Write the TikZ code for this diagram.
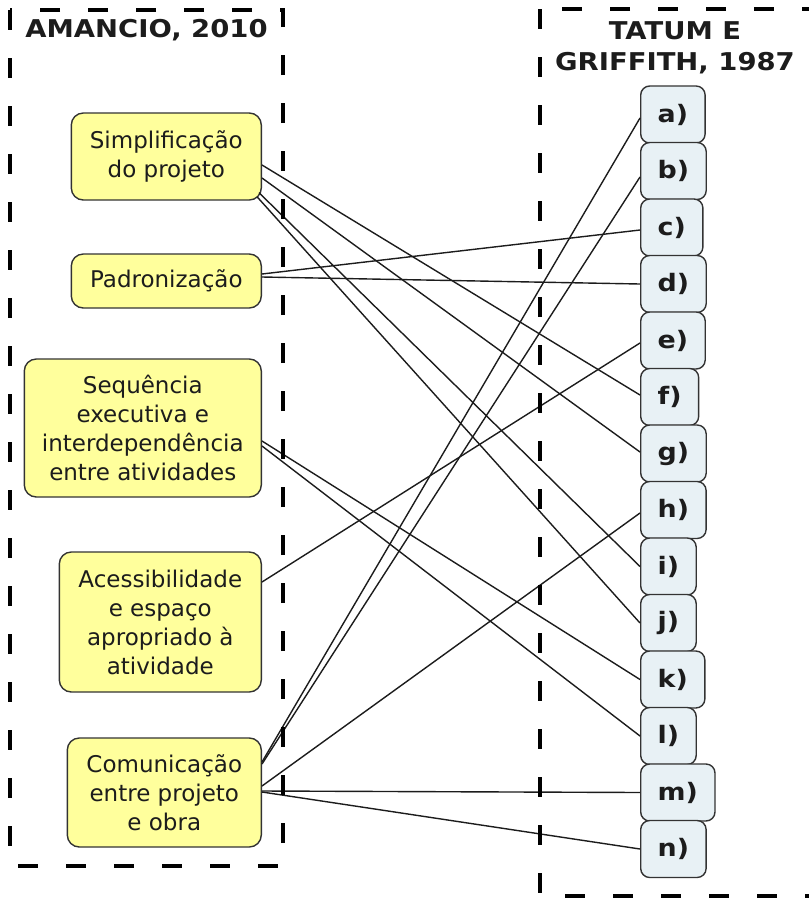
\documentclass[tikz,border=0pt]{standalone}
\usepackage{fontspec}
\newfontfamily\dv{DejaVu Sans}
\newfontfamily\dvb[BoldFeatures={FakeStretch=1.12}]{DejaVu Sans}
\definecolor{lfill}{HTML}{FFFF9C}
\definecolor{rfill}{HTML}{E8F1F5}
\definecolor{ink}{HTML}{1C1C1C}
\definecolor{edge}{HTML}{333333}
\tikzset{
  lbox/.style={draw=edge, line width=1.4pt, fill=lfill, rounded corners=12pt, anchor=east, align=center,
    text=ink, inner sep=0pt, font=\dv\fontsize{23}{29}\selectfont},
  rbox/.style={draw=edge, line width=1.4pt, fill=rfill, rounded corners=9pt, anchor=west, align=center,
    text=ink, inner xsep=17pt, inner ysep=0pt, minimum height=57pt, font=\dvb\bfseries\fontsize{24}{29}\selectfont},
  ttl/.style={align=center, text=ink, inner sep=0pt, font=\dvb\bfseries\fontsize{24.5}{31}\selectfont},
  conn/.style={draw=ink, line width=1.4pt},
  dbox/.style={draw=black, line width=4pt, dash pattern=on 20pt off 28pt}
}
\begin{document}
\begin{tikzpicture}[x=1pt,y=-1pt]
\path[use as bounding box] (0,0) rectangle (809,898);
\clip (0,0) rectangle (809,898);
% left nodes
\node[lbox, minimum width=190pt, minimum height=87pt] (simp) at (262,156.5) {Simplificação\\do projeto};
\node[lbox, minimum width=190pt, minimum height=54pt] (pad) at (262,281) {Padronização};
\node[lbox, minimum width=237pt, minimum height=138pt] (seq) at (262,428) {Sequência\\executiva e\\interdependência\\entre atividades};
\node[lbox, minimum width=202pt, minimum height=140pt] (acc) at (262,622) {Acessibilidade\\e espaço\\apropriado à\\atividade};
\node[lbox, minimum width=194pt, minimum height=109pt] (com) at (262,792.5) {Comunicação\\entre projeto\\e obra};
% right nodes
\node[rbox] (a) at (640,114.5) {a)};
\node[rbox] (b) at (640,171) {b)};
\node[rbox] (c) at (640,227.5) {c)};
\node[rbox] (d) at (640,284) {d)};
\node[rbox] (e) at (640,340.5) {e)};
\node[rbox] (f) at (640,397) {f)};
\node[rbox] (g) at (640,453.5) {g)};
\node[rbox] (h) at (640,510) {h)};
\node[rbox] (i) at (640,566.5) {i)};
\node[rbox] (j) at (640,623) {j)};
\node[rbox] (k) at (640,679.5) {k)};
\node[rbox] (l) at (640,736) {l)};
\node[rbox] (m) at (640,792.5) {m)};
\node[rbox] (n) at (640,849) {n)};
% titles
\node[ttl] (t1) at (146.5,30) {AMANCIO, 2010};
\node[ttl] (t2) at (675,47.5) {TATUM E\\GRIFFITH, 1987};
% connectors
\draw[conn] ([yshift=-8.5pt]simp.east) -- ([yshift=2pt]f.west);
\draw[conn] ([yshift=-21.5pt]simp.east) -- ([yshift=1.5pt]g.west);
\draw[conn] ([xshift=-3pt,yshift=8pt]simp.south east) -- (i.west);
\draw[conn] ([xshift=-5pt,yshift=4pt]simp.south east) -- (j.west);
\draw[conn] ([yshift=7pt]pad.east) -- ([yshift=-2.5pt]c.west);
\draw[conn] ([yshift=4pt]pad.east) -- (d.west);
\draw[conn] ([yshift=-13pt]seq.east) -- (k.west);
\draw[conn] ([yshift=-18pt]seq.east) -- (l.west);
\draw[conn] ([yshift=40pt]acc.east) -- ([yshift=-2.5pt]e.west);
\draw[conn] ([yshift=30.5pt]com.east) -- ([yshift=-3.5pt]a.west);
\draw[conn] ([yshift=28.5pt]com.east) -- ([yshift=-6pt]b.west);
\draw[conn] ([yshift=6.5pt]com.east) -- ([yshift=-3pt]h.west);
\draw[conn] ([yshift=1.5pt]com.east) -- (m.west);
\draw[conn] ([yshift=0.5pt]com.east) -- (n.west);
% dashed frames
\draw[dbox] (10,10) rectangle (283,866);
\draw[dbox] (540,9) rectangle (850,896);
\end{tikzpicture}
\end{document}
